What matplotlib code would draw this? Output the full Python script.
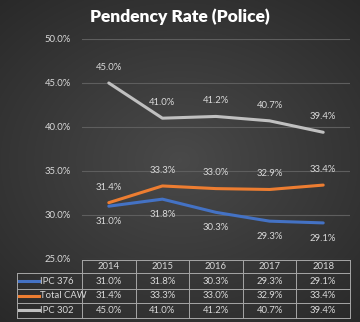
import numpy as np
import matplotlib.pyplot as plt
from matplotlib.transforms import blended_transform_factory

# pendency rate by year for each crime head
years = ['2014', '2015', '2016', '2017', '2018']
ipc_376 = [31.0, 31.8, 30.3, 29.3, 29.1]
total_caw = [31.4, 33.3, 33.0, 32.9, 33.4]
ipc_302 = [45.0, 41.0, 41.2, 40.7, 39.4]

series = [('IPC 376', ipc_376, '#4472c4', -1),
          ('Total CAW', total_caw, '#ed7d31', 1),
          ('IPC 302', ipc_302, '#c0c0c0', 1)]

plt.rcParams['font.family'] = ['Lato', 'DejaVu Sans']
txt = '#d9d9d9'

fig = plt.figure(figsize=(3.6, 3.22), dpi=100)

# dark radial background
bg = fig.add_axes([0, 0, 1, 1], zorder=-1)
yy, xx = np.mgrid[-1:1:322j, -1:1:360j]
r = np.sqrt((xx * 0.9) ** 2 + (yy * 1.0) ** 2)
bg.imshow(0.29 - 0.13 * np.clip(r, 0, 1.4) / 1.4, cmap='gray', vmin=0, vmax=1,
          aspect='auto', extent=[0, 1, 0, 1])
bg.axis('off')

ax = fig.add_axes([82 / 360, 63 / 322, 268 / 360, 220 / 322])
ax.set_facecolor('none')
x = np.arange(len(years))
ax.set_xlim(-0.5, len(years) - 0.5)
ax.set_ylim(25, 50)
ax.set_yticks([25, 30, 35, 40, 45, 50])
ax.set_yticklabels([f'{v:.1f}%' for v in ax.get_yticks()], color=txt, fontsize=6.8)
ax.tick_params(axis='y', length=0, pad=8)
ax.set_xticks([])
for s in ax.spines.values():
    s.set_visible(False)
ax.grid(axis='y', color='#5e5e5e', lw=0.8)
ax.set_axisbelow(True)

for name, vals, col, side in series:
    ax.plot(x, vals, color=col, lw=2.2, solid_capstyle='round', zorder=3)
    for xi, v in zip(x, vals):
        ax.annotate(f'{v:.1f}%', (xi, v), xytext=(0, 8 * side), textcoords='offset points',
                    ha='center', va='bottom' if side > 0 else 'top', color=txt, fontsize=6.8)

fig.text(0.5, 0.947, 'Pendency Rate (Police)', ha='center', va='center',
         color='white', fontsize=12.5, fontweight='heavy')

# data table under the plot
tr = blended_transform_factory(ax.transData, ax.transAxes)
lc = '#a6a6a6'
left = -1.72
rows_y = [-0.005, -0.064, -0.136, -0.2, -0.268]
kw = dict(transform=tr, clip_on=False, color=lc, lw=0.7)
ax.plot([-0.5, len(years) - 0.5], [rows_y[0]] * 2, **kw)
for yv in rows_y[1:]:
    ax.plot([left, len(years) - 0.5], [yv] * 2, **kw)
ax.plot([left, left], [rows_y[1], rows_y[-1]], **kw)
for b in np.arange(len(years) + 1) - 0.5:
    ax.plot([b, b], [rows_y[0], rows_y[-1]], **kw)

for i, yr in enumerate(years):
    ax.text(i, (rows_y[0] + rows_y[1]) / 2, yr, transform=tr, ha='center', va='center',
            color=txt, fontsize=6.8)
for k, (name, vals, col, side) in enumerate(series):
    yc = (rows_y[k + 1] + rows_y[k + 2]) / 2
    ax.plot([left + 0.05, left + 0.42], [yc, yc], transform=tr, clip_on=False,
            color=col, lw=2.2)
    ax.text(left + 0.44, yc, name, transform=tr, ha='left', va='center',
            color=txt, fontsize=6.8)
    for i, v in enumerate(vals):
        ax.text(i, yc, f'{v:.1f}%', transform=tr, ha='center', va='center',
                color=txt, fontsize=6.8)

fig.savefig('out.png', dpi=100)
